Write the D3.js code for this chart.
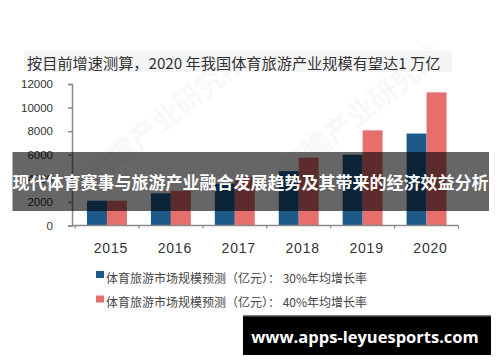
<!DOCTYPE html>
<html>
<head>
<meta charset="utf-8">
<script src="https://cdn.jsdelivr.net/npm/d3@7"></script>
<style>
  body { margin: 0; background: #fff; }
  svg { display: block; }
</style>
</head>
<body>
<div id="chart"></div>
<script>
// data
const years = ["2015", "2016", "2017", "2018", "2019", "2020"];
const series = ["30%", "40%"];
const growth30 = [2100, 2730, 3550, 4610, 6000, 7800];
const growth40 = [2100, 2940, 4120, 5760, 8070, 11290];
const yTicks = [0, 2000, 4000, 6000, 8000, 10000, 12000];
const legendLabels = [
  "体育旅游市场规模预测（亿元）： 30%年均增长率",
  "体育旅游市场规模预测（亿元）： 40%年均增长率"
];
const colors = ["#1d5a8a", "#e66f6e"];

const titleText = "按目前增速测算，2020 年我国体育旅游产业规模有望达1 万亿";
const bannerText = "现代体育赛事与旅游产业融合发展趋势及其带来的经济效益分析";
const siteText = "www.apps-leyuesports.com";

const width = 500, height = 362;

const svg = d3.select("#chart").append("svg")
  .attr("width", width)
  .attr("height", height);

svg.append("rect").attr("width", width).attr("height", height).attr("fill", "#fff");

// faint background watermark
[[95, 185], [290, 180]].forEach(p => {
  svg.append("text")
    .attr("transform", `translate(${p[0]},${p[1]}) rotate(-38)`)
    .attr("font-family", "Noto Sans CJK SC")
    .attr("font-size", 28)
    .attr("font-weight", 700)
    .attr("fill", "#000")
    .attr("opacity", 0.025)
    .text("前瞻产业研究院");
});

// title
svg.append("rect")
  .attr("x", 24).attr("y", 51).attr("width", 428).attr("height", 21)
  .attr("fill", "#f5f5f5");
svg.append("text")
  .attr("x", 27).attr("y", 61.5)
  .attr("dominant-baseline", "central")
  .attr("font-family", "Noto Sans CJK SC")
  .attr("font-size", 15.2)
  .attr("fill", "#333")
  .text(titleText);

// scales
const y = d3.scaleLinear().domain([0, 12000]).range([225.5, 84]);
const x0 = d3.scaleBand().domain(years).range([75, 458.5]).padding(0);
const x1 = d3.scaleBand().domain(series).range([0, x0.bandwidth()])
  .paddingInner(0).paddingOuter(0.6);

// y axis
const yAxis = svg.append("g")
  .attr("transform", "translate(72,0)")
  .call(d3.axisLeft(y).tickValues(yTicks).tickSize(4).tickPadding(15).tickFormat(d3.format("d")));
yAxis.select(".domain").attr("stroke", "#8a8a8a").attr("stroke-width", 1.5);
yAxis.selectAll(".tick line").attr("stroke", "#8a8a8a").attr("stroke-width", 1.5);
yAxis.selectAll(".tick text")
  .attr("font-family", "Liberation Sans, Arial, sans-serif")
  .attr("font-size", 11.5)
  .attr("fill", "#333");

// bars
const rows = years.map((yr, i) => ({ year: yr, values: [growth30[i], growth40[i]] }));
const groups = svg.append("g").selectAll("g")
  .data(rows)
  .enter().append("g")
  .attr("transform", d => `translate(${x0(d.year)},0)`);
groups.selectAll("rect")
  .data(d => d.values.map((v, k) => ({ key: series[k], value: v, k })))
  .enter().append("rect")
  .attr("x", d => x1(d.key))
  .attr("width", x1.bandwidth())
  .attr("y", d => y(d.value))
  .attr("height", d => y(0) - y(d.value))
  .attr("fill", d => colors[d.k]);

// x axis
const xg = svg.append("g");
xg.append("line")
  .attr("x1", 72).attr("x2", x0.range()[1])
  .attr("y1", y(0)).attr("y2", y(0))
  .attr("stroke", "#8a8a8a").attr("stroke-width", 1.5);
xg.selectAll(".xtick")
  .data(years.concat(["end"]))
  .enter().append("line")
  .attr("class", "xtick")
  .attr("x1", d => d === "end" ? x0.range()[1] : x0(d))
  .attr("x2", d => d === "end" ? x0.range()[1] : x0(d))
  .attr("y1", y(0)).attr("y2", y(0) + 3)
  .attr("stroke", "#8a8a8a").attr("stroke-width", 1.2);
xg.selectAll(".xlabel")
  .data(years)
  .enter().append("text")
  .attr("class", "xlabel")
  .attr("x", d => x0(d) + x0.bandwidth() / 2 + 4)
  .attr("y", 253)
  .attr("text-anchor", "middle")
  .attr("font-family", "Liberation Sans, Arial, sans-serif")
  .attr("font-size", 14)
  .attr("letter-spacing", 0.8)
  .attr("fill", "#333")
  .text(d => d);

// legend
const legend = svg.append("g").selectAll("g")
  .data(legendLabels)
  .enter().append("g")
  .attr("transform", (d, i) => `translate(96,${271 + i * 24.5})`);
legend.append("rect")
  .attr("width", 8).attr("height", 7)
  .attr("fill", (d, i) => colors[i]);
legend.append("text")
  .attr("x", 10).attr("y", 11.5)
  .attr("font-family", "Noto Sans CJK SC")
  .attr("font-size", 12)
  .attr("fill", "#444")
  .text(d => d);

// dark banner across the middle
svg.append("rect")
  .attr("x", 12.5).attr("y", 152).attr("width", 476.5).attr("height", 59)
  .attr("fill", "#000").attr("opacity", 0.6);
svg.append("text")
  .attr("x", 250.5).attr("y", 181)
  .attr("text-anchor", "middle")
  .attr("dominant-baseline", "central")
  .attr("font-family", "Noto Sans CJK SC")
  .attr("font-weight", 700)
  .attr("font-size", 17)
  .attr("fill", "#fff")
  .text(bannerText);

// site label bottom right
svg.append("rect")
  .attr("x", 243).attr("y", 315).attr("width", 248).attr("height", 40)
  .attr("fill", "#000");
svg.append("rect")
  .attr("x", 243).attr("y", 315).attr("width", 248).attr("height", 1.5)
  .attr("fill", "#777");
svg.append("text")
  .attr("x", 365).attr("y", 336)
  .attr("text-anchor", "middle")
  .attr("dominant-baseline", "central")
  .attr("font-family", "Open Sans, Noto Sans, sans-serif")
  .attr("font-weight", 700)
  .attr("font-size", 16.5)
  .attr("fill", "#fff")
  .text(siteText);
</script>
</body>
</html>
